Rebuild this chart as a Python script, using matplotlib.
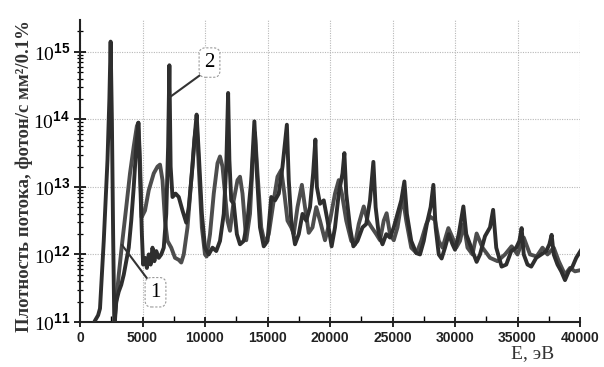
import numpy as np
import matplotlib
matplotlib.use("Agg")
import matplotlib.pyplot as plt
from matplotlib.ticker import FixedLocator, FuncFormatter, LogLocator, NullFormatter

# ---- data (energy in eV, log10 of flux density) ----
e2 = [1000, 1200, 1450, 1600, 1900, 2200, 2350, 2450, 2550, 2650, 2750, 2900, 3100, 3300, 3500,
      3700, 3900, 4100, 4300, 4500, 4670, 4800, 4950, 5050, 5200, 5350, 5500, 5650, 5800, 5950,
      6100, 6300, 6500, 6700, 6900, 7050, 7150, 7250, 7400, 7650, 7900, 8200, 8500, 8700, 9000,
      9200, 9330, 9500, 9750, 10000, 10300, 10600, 10900, 11200, 11500, 11700, 11850, 11950,
      12100, 12300, 12550, 12800, 13100, 13400, 13700, 13950, 14150, 14400, 14700, 15000, 15300,
      15600, 15900, 16200, 16550, 16700, 16900, 17200, 17500, 17800, 18100, 18400, 18650, 18830,
      18950, 19200, 19500, 19800, 20130, 20400, 20700, 21000, 21150, 21300, 21600, 21870, 22200,
      22600, 22900, 23200, 23470, 23650, 23900, 24200, 24500, 24800, 25100, 25400, 25700, 25950,
      26150, 26500, 26900, 27200, 27500, 27800, 28050, 28270, 28450, 28700, 28930, 29200, 29500,
      29800, 30000, 30300, 30670, 30900, 31200, 31500, 31730, 32000, 32400, 32800, 33050, 33300,
      33730, 34100, 34500, 34900, 35150, 35330, 35500, 35800, 36100, 36500, 36900, 37300, 37550,
      37730, 37900, 38200, 38500, 38800, 39100, 39400, 39700, 40100]
lg2 = [10.95, 11.02, 11.1, 11.2, 12.2, 13.4, 14.3, 15.15, 14.0, 12.3, 10.9, 11.3, 11.45, 11.55, 11.7,
       11.9, 12.1, 12.5, 13.0, 13.6, 13.95, 13.2, 12.3, 11.85, 11.95, 11.8, 12.0, 11.85, 12.1, 11.9,
       12.05, 11.95, 12.0, 12.1, 12.6, 13.6, 14.8, 13.3, 12.85, 12.9, 12.85, 12.65, 12.47, 12.7, 13.3,
       13.8, 14.07, 13.5, 12.6, 12.1, 12.0, 12.1, 12.05, 12.2, 12.6, 13.3, 14.39, 13.4,
       12.8, 12.75, 12.3, 12.15, 12.2, 12.5, 13.1, 13.97, 13.2, 12.4, 12.12, 12.2, 12.85,
       12.8, 12.9, 13.3, 13.92, 13.1, 12.5, 12.15, 12.3, 12.6, 12.5, 12.7, 13.2, 13.7,
       13.0, 12.75, 12.8, 12.5, 12.12, 12.4, 12.9, 13.2, 13.5, 12.9, 12.4, 12.12, 12.2,
       12.4, 12.45, 12.8, 13.37, 12.7, 12.3, 12.15, 12.3, 12.25, 12.4, 12.6, 12.8, 13.08,
       12.6, 12.2, 12.02, 12.0, 12.2, 12.5, 12.7, 13.03, 12.4, 12.0, 11.94, 12.1, 12.3,
       12.15, 12.07, 12.3, 12.71, 12.3, 12.15, 12.0, 11.89, 12.0, 12.27, 12.4, 12.66, 12.1,
       11.82, 11.85, 12.05, 12.1, 12.2, 12.39, 12.0, 11.85, 11.82, 11.95, 12.0, 12.05, 12.15,
       12.29, 12.0, 11.85, 11.75, 11.62, 11.75, 11.82, 11.95, 12.07]

e1 = [2700, 2900, 3100, 3360, 3700, 4000, 4300, 4550, 4670, 4800, 4930, 5200, 5500, 5900, 6200,
      6400, 6600, 6800, 7000, 7300, 7600, 7900, 8100, 8300, 8600, 8900, 9150, 9330, 9500, 9750,
      10000, 10130, 10400, 10700, 11000, 11200, 11400, 11600, 11800, 12000, 12300, 12600, 12800,
      13000, 13300, 13600, 13850, 14000, 14200, 14500, 14800, 15100, 15500, 15800, 16100, 16350,
      16600, 16900, 17100, 17400, 17750, 18000, 18300, 18600, 18900, 19200, 19600, 20000, 20400,
      20700, 20950, 21300, 21700, 22000, 22300, 22700, 23000, 23300, 23700, 24000, 24300, 24530,
      24800, 25100, 25400, 25700, 25850, 26100, 26500, 26930, 27300, 27700, 28000, 28400, 28700,
      29000, 29470, 29800, 30100, 30400, 30700, 31000, 31400, 31730, 32200, 32800, 33400, 34000,
      34530, 35000, 35500, 36000, 36530, 37000, 37400, 37900, 38300, 38800, 39200, 39600, 40100]
lg1 = [10.9, 11.3, 11.7, 12.15, 12.7, 13.2, 13.6, 13.9, 13.95, 13.4, 12.55, 12.65, 12.95, 13.2, 13.3,
       13.33, 13.1, 12.5, 12.2, 12.1, 11.95, 11.92, 11.88, 12.0, 12.4, 13.1, 13.7, 13.95, 13.3, 12.4,
       12.0, 11.97, 12.3, 12.9, 13.35, 13.45, 13.3, 12.9, 12.5, 12.35, 12.8, 13.1, 13.15,
       12.9, 12.21, 12.6, 13.5, 13.8, 13.2, 12.4, 12.15, 12.3, 12.8, 13.15, 13.25, 12.9,
       12.5, 12.4, 12.3, 12.7, 13.03, 12.7, 12.32, 12.4, 12.7, 12.5, 12.21, 12.5, 12.9,
       13.1, 12.9, 12.5, 12.2, 12.15, 12.45, 12.71, 12.5, 12.41, 12.3, 12.21, 12.5, 12.61,
       12.3, 12.21, 12.4, 12.75, 12.81, 12.5, 12.1, 12.02, 12.2, 12.45, 12.56, 12.51, 12.2,
       12.1, 12.39, 12.25, 12.1, 12.2, 12.45, 12.1, 12.0, 12.31, 12.1, 11.95, 11.9, 12.0,
       12.12, 12.0, 12.25, 12.0, 11.97, 12.1, 12.0, 12.1, 11.9, 11.7, 11.8, 11.75, 11.77]

xticks = [0, 5000, 10000, 15000, 20000, 25000, 30000, 35000, 40000]
yexps = [11, 12, 13, 14, 15]

ylabel = "Плотность потока, фотон/с мм²/0.1%"
xlabel = "E, эВ"

# ---- style ----
plt.rcParams['mathtext.fontset'] = 'custom'
plt.rcParams['mathtext.rm'] = 'Liberation Serif'
plt.rcParams['mathtext.bf'] = 'Liberation Sans:bold'

fig = plt.figure(figsize=(6.04, 3.67), dpi=100)
ax = fig.add_axes([80/604, 45/367, 500/604, 302/367])

ax.plot(e1, 10**np.array(lg1), color='#4d4d4d', lw=2.8, solid_joinstyle='round', zorder=3)
ax.plot(e2, 10**np.array(lg2), color='#2e2e2e', lw=2.8, solid_joinstyle='round', zorder=4)

ax.set_yscale('log')
ax.set_xlim(0, 40000)
ax.set_ylim(1e11, 10**15.47)

ax.xaxis.set_major_locator(FixedLocator(xticks))
ax.xaxis.set_minor_locator(FixedLocator([x + 2500 for x in xticks[:-1]]))
ax.yaxis.set_major_locator(FixedLocator([10.0**e for e in yexps]))
ax.yaxis.set_minor_locator(LogLocator(base=10, subs=np.arange(2, 10), numticks=20))
ax.yaxis.set_minor_formatter(NullFormatter())
ax.yaxis.set_major_formatter(FuncFormatter(
    lambda v, p: r"$\mathrm{10}^{\mathbf{%d}}$" % int(round(np.log10(v)))))

ax.tick_params(axis='x', which='major', direction='inout', length=7, width=1.2,
               labelsize=10, pad=3)
ax.tick_params(axis='x', which='minor', direction='in', length=4, width=1.0)
ax.tick_params(axis='y', which='major', direction='inout', length=8, width=1.2,
               labelsize=14, pad=3)
ax.tick_params(axis='y', which='minor', direction='inout', length=4, width=0.9)
for t in ax.get_xticklabels():
    t.set_fontfamily('Liberation Sans')
    t.set_fontweight('bold')
    t.set_color('#222222')

ax.grid(True, which='major', color='#b8b8b8', linestyle=(0, (1, 1.2)), linewidth=0.8)
for s in ['top', 'right']:
    ax.spines[s].set_visible(False)
for s in ['left', 'bottom']:
    ax.spines[s].set_linewidth(1.5)
    ax.spines[s].set_color('#222222')

ax.set_ylabel(ylabel, family='Liberation Serif', fontsize=13.5, fontweight='bold',
              color='#333333')
ax.yaxis.set_label_coords(-0.094, 0.483)
ax.set_xlabel(xlabel, family='Liberation Serif', fontsize=14, color='#333333')
ax.xaxis.set_label_coords(0.905, -0.075)

boxprops = dict(boxstyle='round,pad=0.25,rounding_size=0.3', fc='white',
                ec='#9a9a9a', lw=0.8, ls=(0, (2, 1.5)))
ax.annotate("2", xy=(7200, 10**14.33), xytext=(10360, 10**14.84),
            family='Liberation Serif', fontsize=15, ha='center', va='center',
            bbox=boxprops, zorder=6,
            arrowprops=dict(arrowstyle='-', color='#333333', lw=1.5,
                            relpos=(0, 0), shrinkA=0, shrinkB=0))
ax.annotate("1", xy=(3360, 10**12.14), xytext=(6040, 10**11.44),
            family='Liberation Serif', fontsize=15, ha='center', va='center',
            bbox=boxprops, zorder=6,
            arrowprops=dict(arrowstyle='-', color='#333333', lw=1.5,
                            relpos=(0, 1), shrinkA=0, shrinkB=0))

fig.savefig("out.png", dpi=100, facecolor='white')
